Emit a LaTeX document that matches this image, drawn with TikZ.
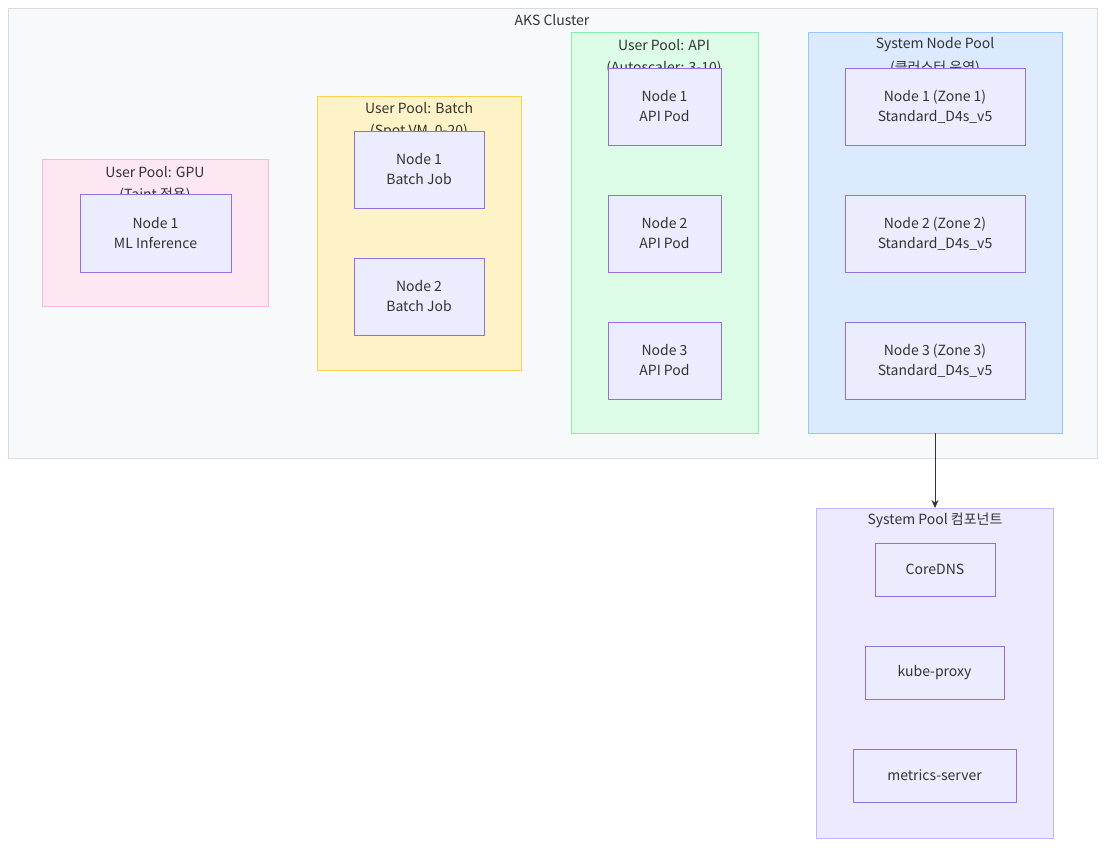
\documentclass[tikz,border=0pt]{standalone}
\usepackage{fontspec}
\setmainfont{Noto Sans CJK KR}
\usetikzlibrary{arrows.meta}
\definecolor{txt}{HTML}{333333}
\definecolor{nodefill}{HTML}{ECECFF}
\definecolor{nodeline}{HTML}{9370DB}
\definecolor{aksfill}{HTML}{F8F9FB}
\definecolor{aksline}{HTML}{D6DAE1}
\definecolor{gpufill}{HTML}{FDE7F3}
\definecolor{gpuline}{HTML}{F9B8DC}
\definecolor{batchfill}{HTML}{FEF3C7}
\definecolor{batchline}{HTML}{FCD34D}
\definecolor{apifill}{HTML}{DCFCE7}
\definecolor{apiline}{HTML}{86EFAC}
\definecolor{sysfill}{HTML}{DBEAFE}
\definecolor{sysline}{HTML}{93C5FD}
\definecolor{compfill}{HTML}{EDE9FE}
\definecolor{compline}{HTML}{C4B5FD}
\tikzset{
  pool/.style={draw=#1line, fill=#1fill, line width=0.8pt},
  box/.style={draw=nodeline, fill=nodefill, line width=0.8pt, text=txt, align=center, inner sep=0pt},
  lbl/.style={text=txt, inner sep=0pt, anchor=center},
}
\begin{document}
\begin{tikzpicture}[x=1pt, y=-1pt, font=\fontsize{14}{17}\selectfont]
            \useasboundingbox (0,0) rectangle (1113,852);
            % Clusters
            \draw[pool=aks] (8,8) rectangle (1097,458);
            \node[lbl] (aks) at (552,20) {AKS Cluster};
            \draw[pool=gpu] (42,159) rectangle (268,306);
            \node[lbl] (gpu) at (155,172) {User Pool: GPU};
            \node[lbl] (gpusub) at (155,195) {(Taint 적용)};
            \draw[pool=batch] (317,96) rectangle (521,370);
            \node[lbl] (batch) at (419,108) {User Pool: Batch};
            \node[lbl] (batchsub) at (419,131) {(Spot VM, 0-20)};
            \draw[pool=api] (571,32) rectangle (758,433);
            \node[lbl] (api) at (664,45) {User Pool: API};
            \node[lbl] (apisub) at (664,68) {(Autoscaler: 3-10)};
            \draw[pool=sys] (808,32) rectangle (1062,433);
            \node[lbl] (sys) at (935,45) {System Node Pool};
            \node[lbl] (syssub) at (935,68) {(클러스터 운영)};
            \draw[pool=comp] (816,508) rectangle (1053,838);
            \node[lbl] (comp) at (935,520) {System Pool 컴포넌트};
            % Nodes
            \node[box, minimum width=151pt, minimum height=78pt] (gpu1) at (155.5,233) {Node 1\\[3pt]ML Inference};
            \node[box, minimum width=130pt, minimum height=77pt] (batch1) at (419,169.5) {Node 1\\[3pt]Batch Job};
            \node[box, minimum width=130pt, minimum height=77pt] (batch2) at (419,296.5) {Node 2\\[3pt]Batch Job};
            \node[box, minimum width=113pt, minimum height=77pt] (api1) at (664.5,106.5) {Node 1\\[3pt]API Pod};
            \node[box, minimum width=113pt, minimum height=77pt] (api2) at (664.5,233.5) {Node 2\\[3pt]API Pod};
            \node[box, minimum width=113pt, minimum height=77pt] (api3) at (664.5,360.5) {Node 3\\[3pt]API Pod};
            \node[box, minimum width=180pt, minimum height=77pt] (sys1) at (935,106.5) {Node 1 (Zone 1)\\[3pt]Standard\_D4s\_v5};
            \node[box, minimum width=180pt, minimum height=77pt] (sys2) at (935,233.5) {Node 2 (Zone 2)\\[3pt]Standard\_D4s\_v5};
            \node[box, minimum width=180pt, minimum height=77pt] (sys3) at (935,360.5) {Node 3 (Zone 3)\\[3pt]Standard\_D4s\_v5};
            \node[box, minimum width=120pt, minimum height=53pt] (dns) at (935,569.5) {CoreDNS};
            \node[box, minimum width=139pt, minimum height=53pt] (proxy) at (934.5,672.5) {kube-proxy};
            \node[box, minimum width=163pt, minimum height=53pt] (metrics) at (934.5,775.5) {metrics-server};
            % Edges
            \coordinate (sysbot) at (935,433);
            \coordinate (comptop) at (935,508);
            \draw[-{Stealth[length=8pt,width=7pt]}, color=txt, line width=1pt] (sysbot) -- (comptop);
        \end{tikzpicture}
\end{document}
